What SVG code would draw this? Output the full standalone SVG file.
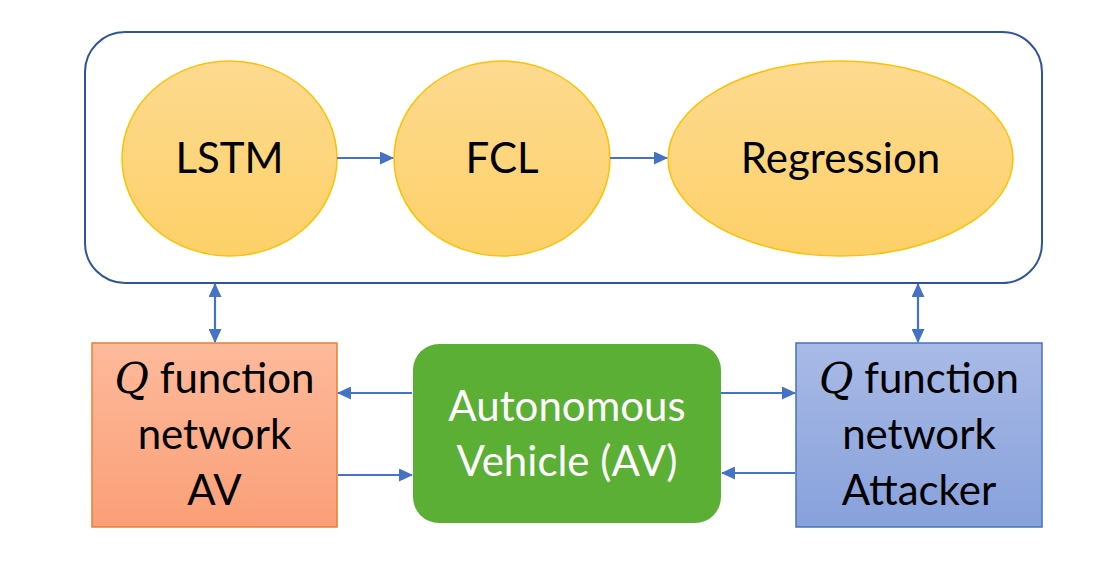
<svg xmlns="http://www.w3.org/2000/svg" width="1096" height="582" viewBox="0 0 1096 582">
<style>
.lbl{font-family:Lato,"Open Sans","Liberation Sans",sans-serif;font-size:42px;text-anchor:middle;fill:#000}
.wht{fill:#fff}
.q{font-family:"DejaVu Serif","Liberation Serif",serif;font-style:italic}
.conn{stroke:#4472C4;stroke-width:2.2;fill:none}
.ell{stroke:#FFC000;stroke-width:1.5;fill:url(#gy)}
</style>
<defs>
<linearGradient id="gy" x1="0" y1="0" x2="0" y2="1"><stop offset="0" stop-color="#FDDA90"/><stop offset="1" stop-color="#FDD068"/></linearGradient>
<linearGradient id="go" x1="0" y1="0" x2="0" y2="1"><stop offset="0" stop-color="#FDBA9B"/><stop offset="1" stop-color="#FA9F78"/></linearGradient>
<linearGradient id="gb" x1="0" y1="0" x2="0" y2="1"><stop offset="0" stop-color="#A9BAE6"/><stop offset="1" stop-color="#87A1DB"/></linearGradient>
<marker id="ah" markerWidth="14" markerHeight="13" refX="13" refY="6.5" orient="auto-start-reverse" markerUnits="userSpaceOnUse"><path d="M0,0 L14,6.5 L0,13 Z" fill="#4472C4"/></marker>
</defs>
<rect width="1096" height="582" fill="#fff"/>
<g id="container"><rect x="85" y="32" width="957" height="251" rx="40" ry="40" fill="#fff" stroke="#2F5597" stroke-width="2"/></g>
<g id="lstm"><ellipse class="ell" cx="229.5" cy="158.5" rx="107.5" ry="97.5"/><text class="lbl" x="229.5" y="173">LSTM</text></g>
<g id="fcl"><ellipse class="ell" cx="502" cy="158.5" rx="108" ry="97.5"/><text class="lbl" x="502" y="173">FCL</text></g>
<g id="regression"><ellipse class="ell" cx="840.5" cy="158.5" rx="172.5" ry="97.5"/><text class="lbl" x="840.5" y="173">Regression</text></g>
<g id="qav"><rect x="92" y="343" width="245" height="184" fill="url(#go)" stroke="#ED7D31" stroke-width="1.5"/>
<text class="lbl" x="214.5" y="393"><tspan class="q">Q</tspan> function</text>
<text class="lbl" x="214.5" y="449">network</text>
<text class="lbl" x="214.5" y="505">AV</text></g>
<g id="av"><rect x="413" y="344" width="308" height="179" rx="26" ry="26" fill="#5BAF35"/>
<text class="lbl wht" x="567" y="421">Autonomous</text>
<text class="lbl wht" x="567" y="476">Vehicle (AV)</text></g>
<g id="qatt"><rect x="796" y="343" width="246" height="184" fill="url(#gb)" stroke="#4472C4" stroke-width="1.5"/>
<text class="lbl" x="919" y="393"><tspan class="q">Q</tspan> function</text>
<text class="lbl" x="919" y="449">network</text>
<text class="lbl" x="919" y="505">Attacker</text></g>
<g id="connectors">
<line class="conn" x1="337" y1="158" x2="393" y2="158" marker-end="url(#ah)"/>
<line class="conn" x1="610" y1="158" x2="667" y2="158" marker-end="url(#ah)"/>
<line class="conn" x1="215" y1="284" x2="215" y2="342" marker-start="url(#ah)" marker-end="url(#ah)"/>
<line class="conn" x1="918" y1="284" x2="918" y2="342" marker-start="url(#ah)" marker-end="url(#ah)"/>
<line class="conn" x1="412" y1="393" x2="338" y2="393" marker-end="url(#ah)"/>
<line class="conn" x1="338" y1="475" x2="412" y2="475" marker-end="url(#ah)"/>
<line class="conn" x1="721" y1="393" x2="795" y2="393" marker-end="url(#ah)"/>
<line class="conn" x1="795" y1="473" x2="722" y2="473" marker-end="url(#ah)"/>
</g>
</svg>
